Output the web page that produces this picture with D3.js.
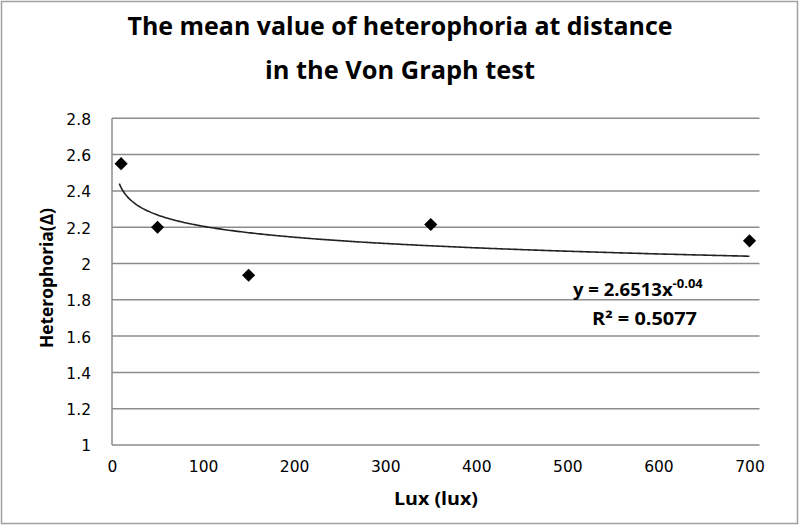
<!DOCTYPE html>
<html><head><meta charset="utf-8">
<script src="https://cdn.jsdelivr.net/npm/d3@7"></script>
<style>body{margin:0;background:#fff}svg{display:block}</style>
</head><body>
<svg id="c" width="800" height="527"></svg>
<script>
const titleLines = ["The mean value of heterophoria at distance", "in the Von Graph test"];
const xLabel = "Lux (lux)";
const yLabel = "Heterophoria(Δ)";
const luxValues = [10, 50, 150, 350, 700];
const heterophoria = [2.55, 2.20, 1.935, 2.215, 2.125];
const xTicks = [0, 100, 200, 300, 400, 500, 600, 700];
const yTicks = [1, 1.2, 1.4, 1.6, 1.8, 2, 2.2, 2.4, 2.6, 2.8];
const fitCoef = 2.6513, fitExp = -0.04;
const eqText = "y = 2.6513x", eqSup = "-0.04", r2Text = "R² = 0.5077";

const svg = d3.select("#c");
const font = "'Open Sans', 'Noto Sans', sans-serif";
const tickFont = "'DejaVu Sans', Verdana, sans-serif";

// outer frame
svg.append("rect").attr("x",1.5).attr("y",1.5).attr("width",796).attr("height",522)
  .attr("fill","#fff").attr("stroke","#a0a0a0").attr("stroke-width",1.5);

const x = d3.scaleLinear().domain([0,700]).range([112,749.5]);
const y = d3.scaleLinear().domain([1,2.8]).range([445,118.3]);

// title
const tl = [{t:titleLines[0], y:35, w:545},{t:titleLines[1], y:79, w:270}];
svg.selectAll("text.title").data(tl).join("text").attr("class","title")
  .attr("x",400).attr("y",d=>d.y).attr("text-anchor","middle")
  .attr("font-family",font).attr("font-weight","bold").attr("font-size",25)
  .attr("textLength",d=>d.w).attr("lengthAdjust","spacingAndGlyphs")
  .attr("fill","#000").text(d=>d.t);

// gridlines
svg.append("g").selectAll("line").data(yTicks.slice(1)).join("line")
  .attr("x1",x(0)).attr("x2",x(700)+10).attr("y1",d=>y(d)).attr("y2",d=>y(d))
  .attr("stroke","#8c8c8c").attr("stroke-width",1.5);

// axes lines
svg.append("line").attr("x1",x(0)).attr("x2",x(0)).attr("y1",y(2.8)).attr("y2",y(1))
  .attr("stroke","#8c8c8c").attr("stroke-width",1.5);
svg.append("line").attr("x1",x(0)).attr("x2",x(700)+10).attr("y1",y(1)).attr("y2",y(1))
  .attr("stroke","#8c8c8c").attr("stroke-width",1.5);

// y tick labels
const yAxis = d3.axisLeft(y).tickValues(yTicks).tickSize(0).tickPadding(0).tickFormat(d3.format("~g"));
const gy = svg.append("g").attr("transform","translate(91,1)").call(yAxis);
gy.select(".domain").remove();
gy.selectAll("text").attr("font-family",tickFont).attr("font-size",15.5).attr("fill","#000");

// x tick labels
const xAxis = d3.axisBottom(x).tickValues(xTicks).tickSize(0).tickPadding(0).tickFormat(d3.format("d"));
const gx = svg.append("g").attr("transform","translate(0,461)").call(xAxis);
gx.select(".domain").remove();
gx.selectAll("text").attr("font-family",tickFont).attr("font-size",15.5).attr("fill","#000");

// axis titles
svg.append("text").attr("x",436).attr("y",505).attr("text-anchor","middle")
  .attr("font-family",font).attr("font-weight","bold").attr("font-size",18)
  .attr("textLength",84).attr("lengthAdjust","spacingAndGlyphs").text(xLabel);
svg.append("text").attr("transform","translate(53,278) rotate(-90)").attr("text-anchor","middle")
  .attr("font-family",font).attr("font-weight","bold").attr("font-size",18)
  .attr("textLength",140).attr("lengthAdjust","spacingAndGlyphs").text(yLabel);

// trend line
const fitX = d3.range(8, 700.01, 2);
const line = d3.line().x(d=>x(d)).y(d=>y(fitCoef*Math.pow(d,fitExp)));
svg.append("path").datum(fitX).attr("d",line).attr("fill","none")
  .attr("stroke","#222").attr("stroke-width",1.6);

// markers
const pts = luxValues.map((v,i)=>({x:v,y:heterophoria[i]}));
svg.append("g").selectAll("path").data(pts).join("path")
  .attr("transform",d=>`translate(${x(d.x)},${y(d.y)})`)
  .attr("d",d3.symbol(d3.symbolDiamond2 || d3.symbolDiamond, 110)())
  .attr("fill","#000");

// equation
const eq = svg.append("text").attr("x",573).attr("y",296)
  .attr("font-family",font).attr("font-weight","bold").attr("font-size",18.5).attr("fill","#000");
eq.append("tspan").text(eqText);
eq.append("tspan").attr("dy",-8).attr("font-size",13).text(eqSup);
svg.append("text").attr("x",592).attr("y",325)
  .attr("font-family",font).attr("font-weight","bold").attr("font-size",17)
  .attr("textLength",105).attr("lengthAdjust","spacingAndGlyphs").text(r2Text);
</script>
</body></html>
